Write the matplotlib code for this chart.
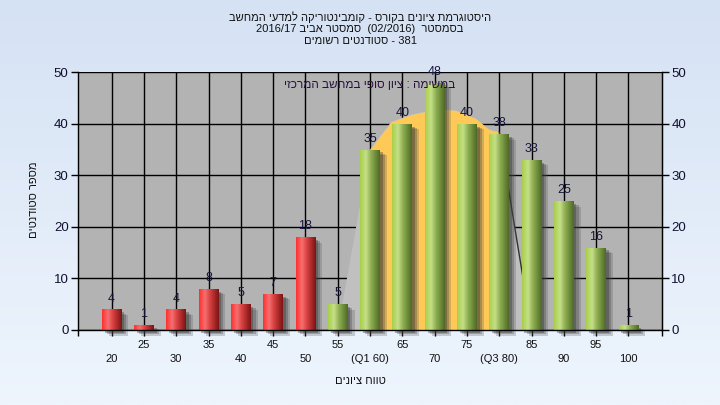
import re
import numpy as np
import matplotlib
matplotlib.use('Agg')
import matplotlib.pyplot as plt
import matplotlib.patheffects as pe
from matplotlib.colors import LinearSegmentedColormap
from matplotlib.patches import Polygon

plt.rcParams['font.family'] = ['Liberation Sans', 'DejaVu Sans']

# data
grades = [20, 25, 30, 35, 40, 45, 50, 55, 60, 65, 70, 75, 80, 85, 90, 95, 100]
counts = [4, 1, 4, 8, 5, 7, 18, 5, 35, 40, 48, 40, 38, 33, 25, 16, 1]
tick_text = ['20', '25', '30', '35', '40', '45', '50', '55', '(Q1 60)', '65',
             '70', '75', '(Q3 80)', '85', '90', '95', '100']
pass_grade = 55
q1, q3 = 60, 80
# outline of the fitted curve behind the bars (grade, height)
curve_grades = [55, 60, 61.5, 63.3, 66.4, 68.3, 71.3, 73.3, 76.4, 78.4, 80, 85]
curve_values = [0, 35, 37.5, 40.4, 41.8, 42.3, 42.8, 42.6, 41.0, 38.9, 38.4, 0]

title_lines = ['היסטוגרמת ציונים בקורס - קומבינטוריקה למדעי המחשב',
               'בסמסטר  (02/2016)  סמסטר אביב 2016/17',
               '381 - סטודנטים רשומים']
note_text = 'במשימה : ציון סופי במחשב המרכזי'
x_title = 'טווח ציונים'
y_title = 'מספר סטודנטים'


def rtl(s):
    # matplotlib has no bidi: put hebrew runs into visual order
    parts = re.findall(r'[0-9A-Za-z/().]+|[^0-9A-Za-z/().]+', s)
    out = []
    for p in parts[::-1]:
        out.append(p if re.match(r'[0-9A-Za-z/().]', p) else p[::-1])
    return ''.join(out)


def pos(g):
    return (np.asarray(g, dtype=float) - grades[0]) / 5.0


fig = plt.figure(figsize=(7.2, 4.05), dpi=100)

# blue-ish background gradient
bg = fig.add_axes([0, 0, 1, 1], zorder=-10)
bg.imshow(np.linspace(0, 1, 256)[:, None], aspect='auto', extent=[0, 1, 0, 1],
          cmap=LinearSegmentedColormap.from_list('bg', ['#d5e2f4', '#eef5fd']))
bg.axis('off')

ax = fig.add_axes([0.1088, 0.1852, 0.8102, 0.6363])
ax.set_facecolor('#b3b3b3')
x = pos(grades)

# grid
ax.set_axisbelow(True)
ax.set_xticks(x)
ax.set_yticks(range(0, 51, 10))
ax.grid(True, color='black', linewidth=1.0)

# curve behind the bars
cx = pos(curve_grades)
ax.add_patch(Polygon(np.column_stack([cx, curve_values]), closed=True,
                     facecolor='#c0c0c0', edgecolor='none', zorder=1))
inner = [(g, v) for g, v in zip(curve_grades, curve_values) if q1 <= g <= q3]
ig = pos([p[0] for p in inner])
iv = [p[1] for p in inner]
ax.fill_between(ig, 0, iv, color='#ffc957', linewidth=0, zorder=1.1)
ax.plot(cx[-2:], curve_values[-2:], color='#333333', linewidth=1.0, zorder=1.2)

# bars with a cylinder-like gradient
red_cmap = LinearSegmentedColormap.from_list(
    'r', [(0, '#ff3030'), (0.3, '#f57070'), (0.55, '#d84040'), (1, '#7c1414')])
green_cmap = LinearSegmentedColormap.from_list(
    'g', [(0, '#a8d048'), (0.3, '#c6df8a'), (0.55, '#8fb052'), (1, '#4f6a26')])
width = 0.61
colors = ['#d84040' if g < pass_grade else '#8fb052' for g in grades]
bars = ax.bar(x, counts, width=width, color=colors, zorder=2, clip_on=False)
grad = np.linspace(0, 1, 64)[None, :]
for b, g, c in zip(bars, grades, counts):
    b.set_path_effects([
        pe.SimplePatchShadow(offset=(5, -4), shadow_rgbFace='#505050', alpha=0.25),
        pe.SimplePatchShadow(offset=(3.5, -3), shadow_rgbFace='#404040', alpha=0.3),
        pe.SimplePatchShadow(offset=(2, -2), shadow_rgbFace='#303030', alpha=0.35),
        pe.Normal()])
    im = ax.imshow(grad, aspect='auto', zorder=2.1,
                   cmap=red_cmap if g < pass_grade else green_cmap,
                   extent=[b.get_x(), b.get_x() + b.get_width(), 0, c])
    im.set_clip_path(b)
    ax.annotate(str(c), (b.get_x() + b.get_width() / 2, c), xytext=(0, 3.5),
                textcoords='offset points', ha='center', va='bottom',
                fontsize=9, color='#15153a', zorder=3)
ax.set_xlim(-1.03, 17.03)
ax.set_ylim(0, 50)

# two-row category labels
labels = [t + '\n' if i % 2 else '\n' + t for i, t in enumerate(tick_text)]
ax.set_xticklabels(labels, fontsize=8, color='#111111')
for t in ax.get_xticklabels():
    t.set_linespacing(1.5)
ax.set_xticks([-1.03, 17.03], minor=True)
ax.tick_params(axis='x', which='both', direction='out', length=4, width=1, pad=3)
ax.tick_params(axis='y', direction='out', length=5, width=1, pad=2,
               labelsize=9.5, labelcolor='#101030')
for s in ax.spines.values():
    s.set_color('black')
    s.set_linewidth(1.0)
ax.spines['top'].set_visible(False)

ax2 = ax.twinx()
ax2.set_ylim(0, 50)
ax2.set_yticks(range(0, 51, 10))
ax2.tick_params(axis='y', direction='out', length=5, width=1, pad=2,
                labelsize=9.5, labelcolor='#101030')
for s in ax2.spines.values():
    s.set_visible(False)
ax2.spines['right'].set_visible(True)
ax2.spines['right'].set_color('black')

ax.text(0.5, 0.951, rtl(note_text), transform=ax.transAxes, ha='center',
        va='center', fontsize=8.5, color='#2a1040', zorder=4)

for i, line in enumerate(title_lines):
    fig.text(0.5, 1 - (17 + 12 * i) / 405, rtl(line), ha='center', va='center',
             fontsize=8, color='#111111')
fig.text(0.5, 1 - 381 / 405, rtl(x_title), ha='center', va='center',
         fontsize=8, color='#111111')
fig.text(34 / 720, 1 - 200 / 405, rtl(y_title), ha='center', va='center',
         rotation=90, fontsize=8, color='#111111')

fig.savefig('out.png', dpi=100)
